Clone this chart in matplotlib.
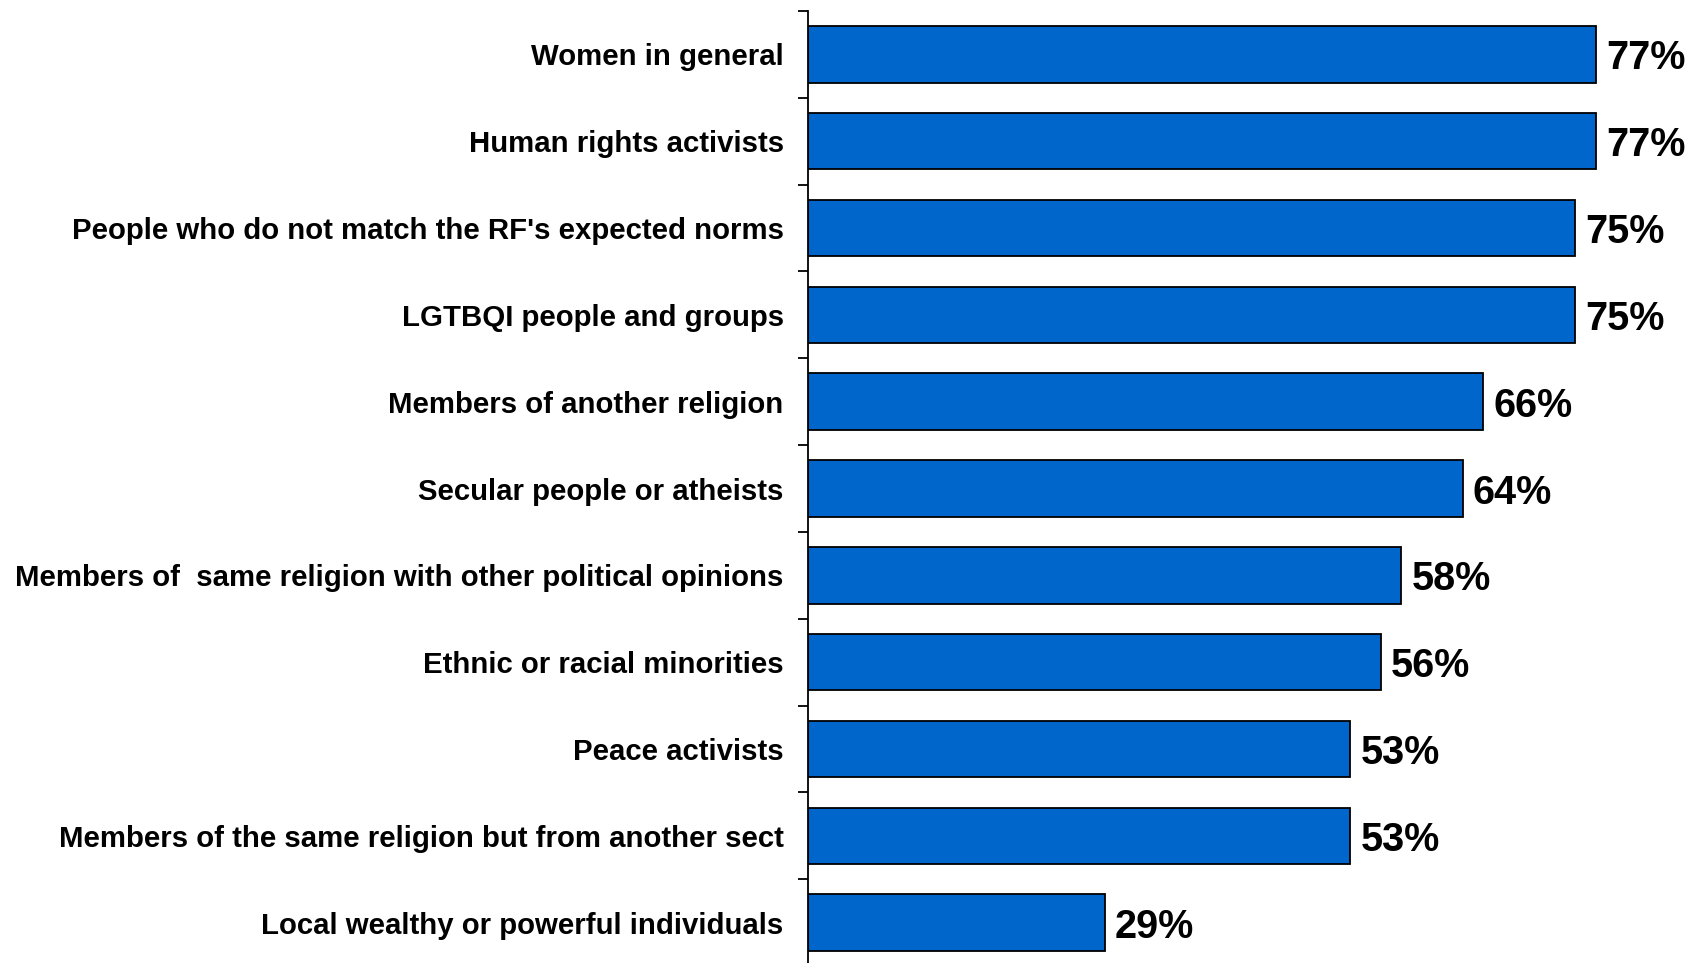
import matplotlib
matplotlib.use("Agg")
import matplotlib.pyplot as plt
import numpy as np

categories = [
    "Women in general",
    "Human rights activists",
    "People who do not match the RF's expected norms",
    "LGTBQI people and groups",
    "Members of another religion",
    "Secular people or atheists",
    "Members of  same religion with other political opinions",
    "Ethnic or racial minorities",
    "Peace activists",
    "Members of the same religion but from another sect",
    "Local wealthy or powerful individuals",
]
values = [77, 77, 75, 75, 66, 64, 58, 56, 53, 53, 29]
value_labels = [f"{v}%" for v in values]

plt.rcParams['font.family'] = ['Liberation Sans', 'DejaVu Sans']

fig = plt.figure(figsize=(16.98, 9.63), dpi=100)
ax = fig.add_axes([808/1698, -3/963, 1 - 808/1698, (963 - 11 + 3)/963])

y = np.arange(len(categories))
bars = ax.barh(y, values, height=0.65, color="#0066CC", edgecolor="black", linewidth=1.3)

for b, lab in zip(bars, value_labels):
    ax.text(b.get_width() + 1.0, b.get_y() + b.get_height()/2, lab,
            va="center_baseline", ha="left", fontsize=28.5, fontweight="bold")

ax.set_xlim(0, 87)
ax.set_ylim(len(categories) - 0.5, -0.5)

ax.set_yticks(y)
ax.set_yticklabels(categories, fontsize=21.2, fontweight="bold")
ax.tick_params(axis="y", which="major", length=0, pad=17.5)
ax.set_yticks(np.arange(-0.5, len(categories), 1), minor=True)
ax.tick_params(axis="y", which="minor", length=7, width=1.3, direction="out")
ax.set_xticks([])

for s in ["top", "right", "bottom"]:
    ax.spines[s].set_visible(False)
ax.spines["left"].set_linewidth(1.3)

fig.savefig("out.png", dpi=100)
